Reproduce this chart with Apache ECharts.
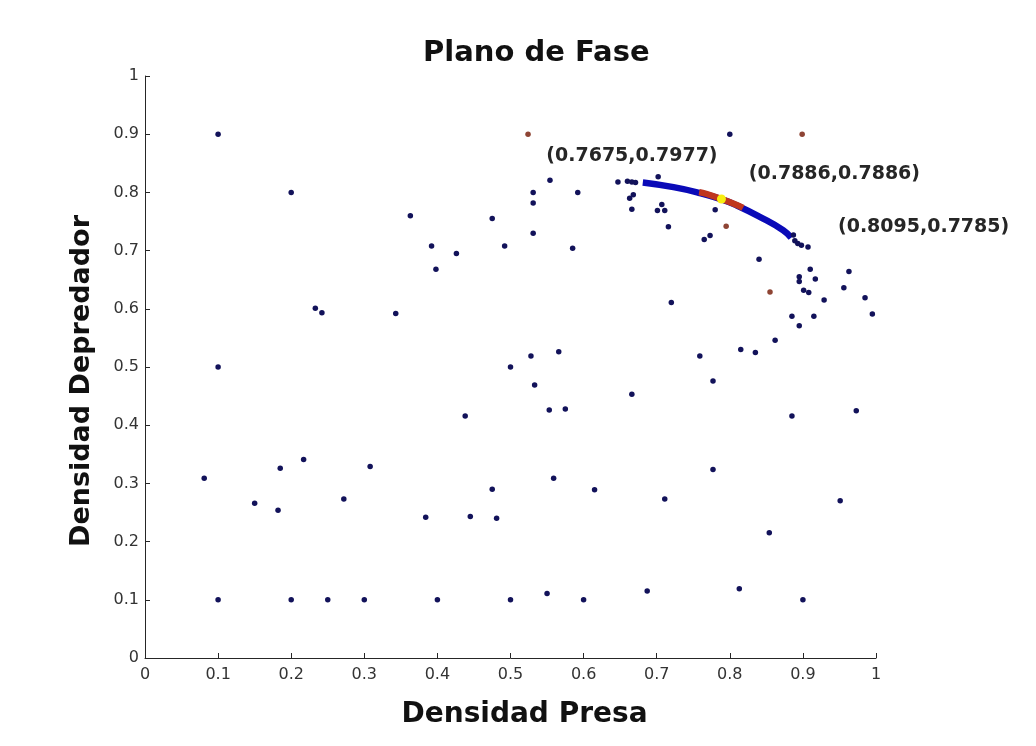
<!DOCTYPE html>
<html>
<head>
<meta charset="utf-8">
<title>Plano de Fase</title>
<script src="https://cdn.jsdelivr.net/npm/echarts@6/dist/echarts.min.js"></script>
<style>
  html, body { margin: 0; padding: 0; background: #fff; }
  #chart { width: 1036px; height: 746px; }
</style>
</head>
<body>
<div id="chart"></div>
<script>
// puntos dispersos (densidad presa, densidad depredador)
var puntosAzules = [
  [0.1, 0.9], [0.8, 0.9], [0.2, 0.8],
  [0.554, 0.821], [0.531, 0.800], [0.531, 0.782], [0.592, 0.800], [0.531, 0.730], [0.585, 0.704],
  [0.647, 0.818], [0.660, 0.819], [0.666, 0.818], [0.671, 0.817],
  [0.668, 0.796], [0.663, 0.790], [0.666, 0.771], [0.702, 0.827],
  [0.701, 0.769], [0.707, 0.779], [0.711, 0.769], [0.716, 0.741],
  [0.780, 0.770], [0.765, 0.719], [0.773, 0.726],
  [0.363, 0.760], [0.392, 0.708], [0.398, 0.668], [0.426, 0.695], [0.475, 0.755], [0.492, 0.708],
  [0.233, 0.601], [0.242, 0.593], [0.343, 0.592],
  [0.1, 0.5], [0.5, 0.5], [0.438, 0.416], [0.720, 0.611], [0.840, 0.685],
  [0.887, 0.727], [0.889, 0.717], [0.893, 0.712], [0.898, 0.709], [0.907, 0.706],
  [0.910, 0.668], [0.895, 0.655], [0.917, 0.651], [0.895, 0.647], [0.963, 0.664],
  [0.956, 0.636], [0.901, 0.632], [0.908, 0.628], [0.929, 0.615], [0.985, 0.619],
  [0.995, 0.591], [0.885, 0.587], [0.915, 0.587], [0.895, 0.571], [0.862, 0.546],
  [0.815, 0.530], [0.835, 0.525], [0.759, 0.519], [0.777, 0.476],
  [0.528, 0.519], [0.566, 0.526], [0.533, 0.469], [0.666, 0.453], [0.553, 0.426],
  [0.575, 0.428], [0.885, 0.416], [0.973, 0.425],
  [0.777, 0.324], [0.559, 0.309], [0.615, 0.289], [0.711, 0.273], [0.951, 0.270], [0.854, 0.215],
  [0.081, 0.309], [0.150, 0.266], [0.182, 0.254], [0.185, 0.326], [0.217, 0.341], [0.272, 0.273],
  [0.308, 0.329], [0.384, 0.242], [0.445, 0.243], [0.475, 0.290], [0.481, 0.240],
  [0.1, 0.1], [0.2, 0.1], [0.25, 0.1], [0.3, 0.1], [0.4, 0.1], [0.5, 0.1], [0.6, 0.1], [0.9, 0.1],
  [0.550, 0.111], [0.687, 0.115], [0.813, 0.119]
];

var puntosCafes = [[0.524, 0.9], [0.899, 0.9], [0.795, 0.742], [0.855, 0.629]];

// trayectoria (arco azul) y tramo rojo
var trayectoria = [
  [0.681, 0.817], [0.723, 0.809], [0.759, 0.799], [0.789, 0.788],
  [0.809, 0.778], [0.841, 0.758], [0.873, 0.735], [0.884, 0.722]
];
var tramoRojo = [[0.758, 0.8005], [0.7675, 0.7977], [0.7886, 0.7886], [0.8095, 0.7785], [0.818, 0.7735]];
var puntoEquilibrio = [[0.7886, 0.7886]];

// anotaciones
var textos = ['(0.7675,0.7977)', '(0.7886,0.7886)', '(0.8095,0.7785)'];
var textosX = [0.549, 0.826, 0.948];
var textosY = [0.863, 0.832, 0.741];

var ticks = [0, 0.1, 0.2, 0.3, 0.4, 0.5, 0.6, 0.7, 0.8, 0.9, 1];

var anotaciones = textos.map(function (t, i) {
  return { value: [textosX[i], textosY[i]], name: t };
});

function fmt(v) {
  return ticks.indexOf(+v.toFixed(2)) >= 0 ? String(+v.toFixed(1)) : '';
}

var chart = echarts.init(document.getElementById('chart'));
chart.setOption({
  backgroundColor: '#fff',
  animation: false,
  title: {
    text: 'Plano de Fase',
    left: 418,
    top: 34,
    textStyle: { fontFamily: 'DejaVu Sans', fontWeight: 'bold', fontSize: 29, color: '#111' }
  },
  grid: { left: 145, right: 160, top: 76, bottom: 88 },
  xAxis: {
    type: 'value', min: 0, max: 1, interval: 0.1,
    name: 'Densidad Presa', nameLocation: 'middle', nameGap: 43,
    nameTextStyle: { fontFamily: 'DejaVu Sans', fontWeight: 'bold', fontSize: 28, color: '#111', padding: [0, 0, 0, 28] },
    axisLine: { show: true, lineStyle: { color: '#262626', width: 1 } },
    axisTick: { show: true, inside: true, length: 5, lineStyle: { color: '#262626' } },
    axisLabel: { margin: 9, fontFamily: 'DejaVu Sans', fontSize: 16, color: '#333', formatter: fmt },
    splitLine: { show: false }
  },
  yAxis: {
    type: 'value', min: 0, max: 1, interval: 0.1,
    name: 'Densidad Depredador', nameLocation: 'middle', nameGap: 50,
    nameTextStyle: { fontFamily: 'DejaVu Sans', fontWeight: 'bold', fontSize: 27, color: '#111', padding: [0, 28, 0, 0] },
    axisLine: { show: true, lineStyle: { color: '#262626', width: 1 } },
    axisTick: { show: true, inside: true, length: 5, lineStyle: { color: '#262626' } },
    axisLabel: { margin: 6, fontFamily: 'DejaVu Sans', fontSize: 16, color: '#333', formatter: fmt },
    splitLine: { show: false }
  },
  series: [
    {
      type: 'line', data: trayectoria, smooth: true, symbol: 'none',
      lineStyle: { color: '#0a0ab8', width: 6.5 }, z: 3
    },
    {
      type: 'line', data: tramoRojo, smooth: true, symbol: 'none',
      lineStyle: { color: '#c0361e', width: 6.5 }, z: 4
    },
    {
      type: 'scatter', data: puntoEquilibrio, symbolSize: 9,
      itemStyle: { color: '#f8ee10', opacity: 1 }, z: 5
    },
    {
      type: 'scatter', data: puntosAzules, symbolSize: 5.5,
      itemStyle: { color: '#12125a', opacity: 1 }, z: 6
    },
    {
      type: 'scatter', data: puntosCafes, symbolSize: 5.5,
      itemStyle: { color: '#8e4434', opacity: 1 }, z: 6
    },
    {
      type: 'scatter', data: anotaciones, symbolSize: 0,
      itemStyle: { color: '#262626', opacity: 1 },
      label: {
        show: true, position: 'right', distance: 0,
        formatter: function (p) { return p.name; },
        fontFamily: 'DejaVu Sans', fontWeight: 'bold', fontSize: 19, color: '#262626',
        textBorderWidth: 0
      },
      z: 7
    }
  ]
});
</script>
</body>
</html>
